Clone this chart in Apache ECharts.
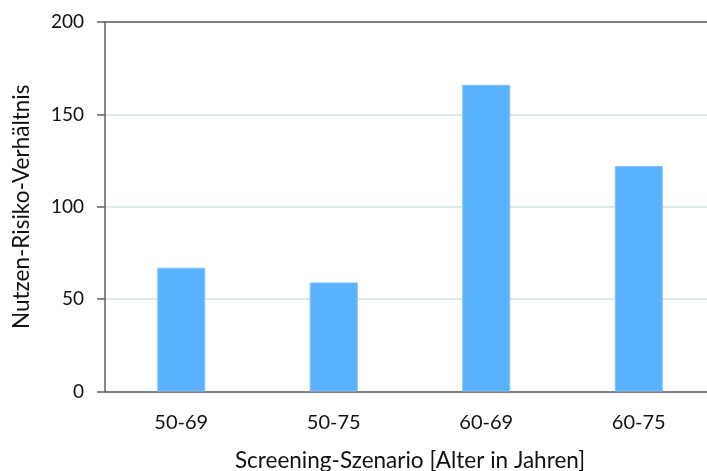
<!DOCTYPE html>
<html>
<head>
<meta charset="utf-8">
<script src="https://cdn.jsdelivr.net/npm/echarts@6/dist/echarts.min.js"></script>
<style>html,body{margin:0;padding:0;background:#fff}#c{width:707px;height:471px}</style>
</head>
<body>
<div id="c"></div>
<script>
const categories = ["50-69", "50-75", "60-69", "60-75"];
const values = [67, 59, 166, 122];
const yTicks = [0, 50, 100, 150, 200];

const font = "Lato, 'Open Sans', sans-serif";
const chart = echarts.init(document.getElementById('c'));
chart.setOption({
  animation: false,
  grid: { left: 105, top: 22, width: 610, height: 369.5, containLabel: false, outerBoundsMode: 'none' },
  xAxis: [{
    type: 'category',
    data: categories,
    axisLine: { lineStyle: { color: '#606060', width: 1.5 } },
    axisTick: { show: false },
    axisLabel: { color: '#111', fontSize: 20, fontFamily: font, margin: 21 },
    name: 'Screening-Szenario [Alter in Jahren]',
    nameLocation: 'middle',
    nameGap: 58,
    nameTextStyle: { color: '#111', fontSize: 22.5, fontFamily: font },
  }, {
    type: 'category',
    position: 'top',
    data: categories,
    axisLine: { show: true, lineStyle: { color: '#606060', width: 1.5 } },
    axisTick: { show: false },
    axisLabel: { show: false }
  }],
  yAxis: {
    type: 'value',
    min: yTicks[0],
    max: yTicks[yTicks.length - 1],
    interval: 50,
    axisLine: { show: true, lineStyle: { color: '#606060', width: 1.5 } },
    axisTick: { show: true, length: 8, lineStyle: { color: '#606060', width: 1.5 } },
    axisLabel: { color: '#111', fontSize: 19, fontFamily: font, margin: 21 },
    splitLine: { show: true, lineStyle: { color: '#d3dfe2', width: 1.5 } },
    name: 'Nutzen-Risiko-Verhältnis',
    nameLocation: 'middle',
    nameGap: 72,
    nameTextStyle: { color: '#111', fontSize: 22.5, fontFamily: font },
  },
  series: [{
    type: 'bar',
    data: values,
    barWidth: 48,
    itemStyle: { color: '#5ab1ff', borderColor: '#7cc0ff', borderWidth: 1 }
  }]
});
</script>
</body>
</html>
